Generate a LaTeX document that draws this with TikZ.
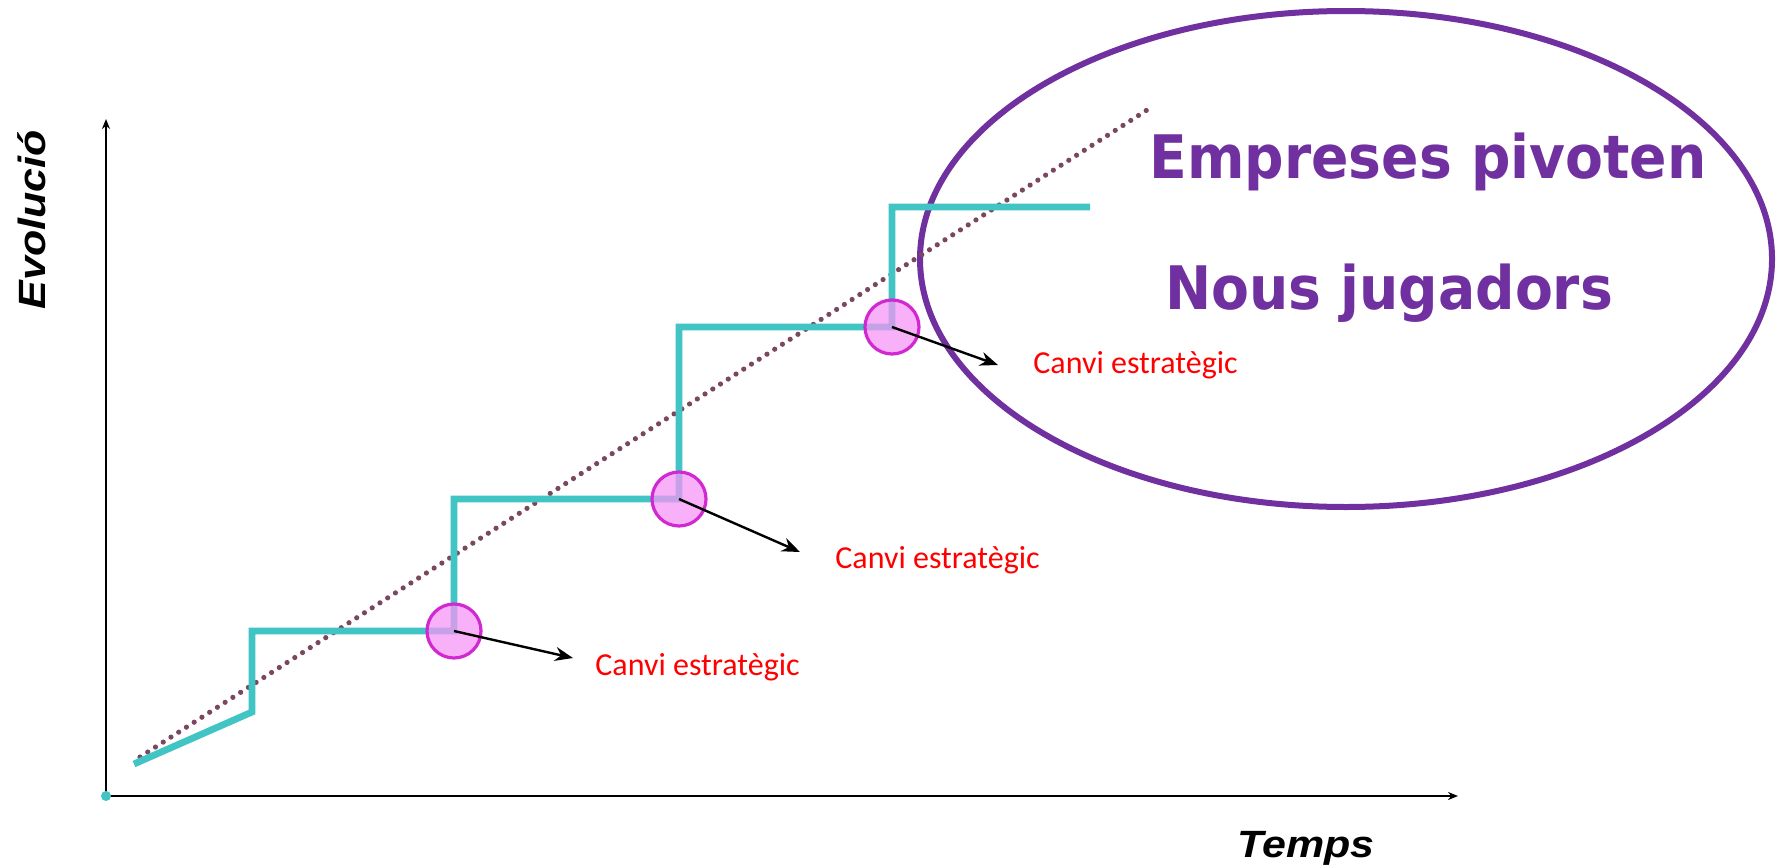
\documentclass[tikz,border=0pt]{standalone}
\usepackage{fontspec}
\setmainfont{Carlito}
\newfontfamily\arialfont{Liberation Sans}
\newfontfamily\dejavufont{DejaVu Sans}
\usetikzlibrary{arrows.meta,shapes.geometric}
\definecolor{stepcyan}{RGB}{64,196,196}
\definecolor{pivfill}{RGB}{245,150,245}
\definecolor{pivdraw}{RGB}{210,40,210}
\definecolor{ovalpurple}{RGB}{112,48,160}
\definecolor{trendcol}{RGB}{122,70,96}
\tikzset{
  axis/.style={line width=1pt, -{Stealth[length=5pt,width=4pt]}},
  trend/.style={trendcol, line width=2.6pt, line cap=round, dash pattern=on 0pt off 4.6pt},
  stepline/.style={stepcyan, line width=3.4pt, line join=miter},
  pivot/.style={circle, minimum size=27pt, inner sep=0pt, fill=pivfill, fill opacity=0.75, draw=pivdraw, draw opacity=1, line width=1.6pt},
  pointer/.style={line width=1.2pt, -{Stealth[length=9pt,width=7pt]}},
  canvi/.style={text=red, font=\fontsize{16}{19}\selectfont, inner sep=0pt},
  big/.style={text=ovalpurple, font=\dejavufont\bfseries\fontsize{30}{36}\selectfont, inner sep=0pt},
  oval/.style={ellipse, draw=ovalpurple, line width=3pt, inner sep=0pt},
  axislabel/.style={font=\arialfont\bfseries\itshape\fontsize{19}{23}\selectfont, inner sep=0pt}
}
\begin{document}
\begin{tikzpicture}[x=0.5pt,y=-0.5pt]
\useasboundingbox (0,0) rectangle (1781,867);
% axes
\coordinate (O) at (106,796);
\coordinate (ytop) at (106,119);
\coordinate (xend) at (1458,796);
\draw[axis] (O) -- (ytop);
\draw[axis] (O) -- (xend);
\fill[stepcyan] (O) circle (2.5pt);
% ellipse
\node[oval, minimum width=426pt, minimum height=248pt] (zone) at (1346,259) {};
% trend
\coordinate (d0) at (140,757);
\coordinate (d1) at (1147,110);
\draw[trend] (d0) -- (d1);
% step line
\coordinate (s0) at (134,764);
\coordinate (s1) at (252,712);
\coordinate (s2) at (252,631);
\coordinate (c1) at (454,631);
\coordinate (s4) at (454,499);
\coordinate (c2) at (679,499);
\coordinate (s6) at (679,327);
\coordinate (c3) at (892,327);
\coordinate (s8) at (892,207);
\coordinate (s9) at (1090,207);
\draw[stepline] (s0) -- (s1) -- (s2) -- (c1) -- (s4) -- (c2) -- (s6) -- (c3) -- (s8) -- (s9);
% pivots
\node[pivot] (p1) at (c1) {};
\node[pivot] (p2) at (c2) {};
\node[pivot] (p3) at (c3) {};
% labels
\node[canvi, anchor=base west] (l1) at (595,675) {Canvi estratègic};
\node[canvi, anchor=base west] (l2) at (835,568) {Canvi estratègic};
\node[canvi, anchor=base west] (l3) at (1033,373) {Canvi estratègic};
\coordinate (t1) at (573,658);
\coordinate (t2) at (800,552);
\coordinate (t3) at (998,365);
\draw[pointer] (p1.center) -- (t1);
\draw[pointer] (p2.center) -- (t2);
\draw[pointer] (p3.center) -- (t3);
% big texts
\node[big, anchor=base] (e1) at (1428,178) {\scalebox{0.92}[1]{Empreses pivoten}};
\node[big, anchor=base] (e2) at (1389,309) {\scalebox{0.92}[1]{Nous jugadors}};
% axis labels
\node[axislabel, anchor=base] (tl) at (1306,857) {\scalebox{1.13}[1]{Temps}};
\node[axislabel, rotate=90, anchor=base] (el) at (45,220) {\scalebox{1.13}[1]{Evolució}};
\end{tikzpicture}
\end{document}
